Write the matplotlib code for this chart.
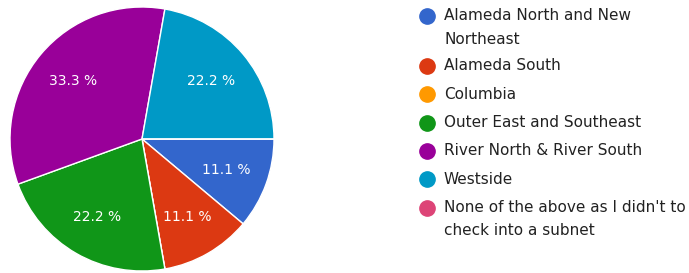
import matplotlib
matplotlib.use("Agg")
import matplotlib.pyplot as plt

categories = [
    "Alameda North and New\nNortheast",
    "Alameda South",
    "Columbia",
    "Outer East and Southeast",
    "River North & River South",
    "Westside",
    "None of the above as I didn't to\ncheck into a subnet",
]
counts = [1, 1, 0, 2, 3, 2, 0]
colors = ["#3366cc", "#dc3912", "#ff9900", "#109618", "#990099", "#0099c6", "#dd4477"]

plt.rcParams['font.family'] = ['DejaVu Sans']

W, H = 689, 273
fig = plt.figure(figsize=(W / 100, H / 100), dpi=100)

cx, cy, r = 142, 139, 132
ax = fig.add_axes([(cx - r) / W, (H - cy - r) / H, 2 * r / W, 2 * r / H])
wedges, texts, autotexts = ax.pie(
    counts, colors=colors, startangle=0, counterclock=False,
    autopct=lambda p: f"{p:.1f} %" if p > 0 else "",
    pctdistance=0.68,
    wedgeprops=dict(edgecolor="white", linewidth=1.0),
    textprops=dict(color="white", fontsize=10),
)
ax.set_xlim(-1, 1)
ax.set_ylim(-1, 1)
ax.set_aspect("equal")

# legend drawn manually
lax = fig.add_axes([0, 0, 1, 1])
lax.set_xlim(0, W)
lax.set_ylim(H, 0)
lax.axis("off")
extra = 0
for i, (lab, col) in enumerate(zip(categories, colors)):
    y = 16 + 28.3 * i + 21.7 * extra
    lax.plot([427], [y], marker="o", markersize=11, color=col, linestyle="none")
    lines = lab.split("\n")
    for j, ln in enumerate(lines):
        lax.text(444, y + 23 * j, ln, fontsize=11, color="#222222", va="center", ha="left")
    extra += len(lines) - 1

fig.savefig("out.png", dpi=100)
